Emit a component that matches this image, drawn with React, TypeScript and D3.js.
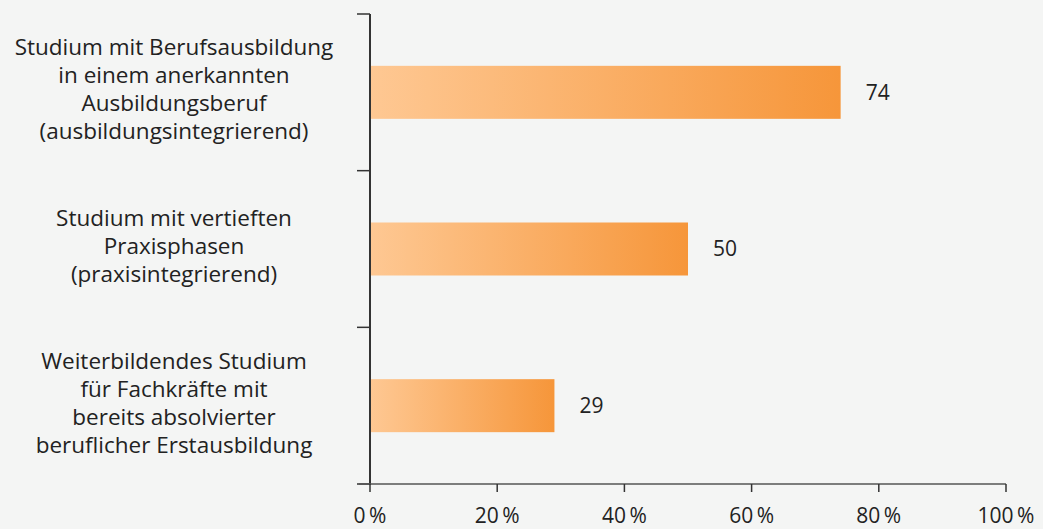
import React from "react";
import * as d3 from "d3";

const categories: string[][] = [
  ["Studium mit Berufsausbildung", "in einem anerkannten", "Ausbildungsberuf", "(ausbildungsintegrierend)"],
  ["Studium mit vertieften", "Praxisphasen", "(praxisintegrierend)"],
  ["Weiterbildendes Studium", "für Fachkräfte mit", "bereits absolvierter", "beruflicher Erstausbildung"],
];
const values: number[] = [74, 50, 29];
const xTicks: number[] = [0, 20, 40, 60, 80, 100];

const W = 1043;
const H = 529;
const FONT = "'Open Sans', sans-serif";

export default function App() {
  const x = d3.scaleLinear().domain([0, 100]).range([370, 1006]);
  const ids = categories.map((_, i) => String(i));
  const band = d3.scaleBand().domain(ids).range([14, 484]);
  const barH = 53;
  const lineH = 28;

  return (
    <svg width={W} height={H} style={{ position: "absolute", left: 0, top: 0 }} fontFamily={FONT}>
      <defs>
        <linearGradient id="barGrad" x1="0" x2="1" y1="0" y2="0">
          <stop offset="0%" stopColor="#fec893" />
          <stop offset="100%" stopColor="#f6963a" />
        </linearGradient>
      </defs>
      <rect x={0} y={0} width={W} height={H} fill="#f4f5f4" />
      {values.map((v, i) => {
        const cy = band(String(i))! + band.bandwidth() / 2;
        return (
          <rect key={"b" + i} x={x(0)} y={cy - barH / 2} width={x(v) - x(0)} height={barH} fill="url(#barGrad)" />
        );
      })}
      {values.map((v, i) => (
        <text key={"v" + i} x={x(v) + 25} y={band(String(i))! + band.bandwidth() / 2} dy="0.35em" fontSize={21} fill="#222">
          {v}
        </text>
      ))}
      {categories.map((lines, i) => {
        const cy = band(String(i))! + band.bandwidth() / 2 - 3;
        const start = cy - ((lines.length - 1) * lineH) / 2;
        return (
          <text key={"c" + i} textAnchor="middle" fontSize={22.5} fill="#222">
            {lines.map((l, j) => (
              <tspan key={j} x={174} y={start + j * lineH} dy="0.35em">
                {l}
              </tspan>
            ))}
          </text>
        );
      })}
      {/* y axis */}
      <line x1={370} x2={370} y1={14} y2={485} stroke="#333" strokeWidth={2} />
      {[...ids.map((id) => band(id)!), 484].map((t, i) => (
        <line key={"yt" + i} x1={357} x2={370} y1={t} y2={t} stroke="#333" strokeWidth={1.5} />
      ))}
      {/* x axis */}
      <line x1={359} x2={x(100)} y1={484} y2={484} stroke="#555" strokeWidth={1.5} />
      {xTicks.map((t) => (
        <g key={"xt" + t}>
          <line x1={x(t)} x2={x(t)} y1={484} y2={492} stroke="#333" strokeWidth={1.5} />
          <text x={x(t)} y={523} textAnchor="middle" fontSize={21} fill="#222">
            {t + "\u2009%"}
          </text>
        </g>
      ))}
    </svg>
  );
}
